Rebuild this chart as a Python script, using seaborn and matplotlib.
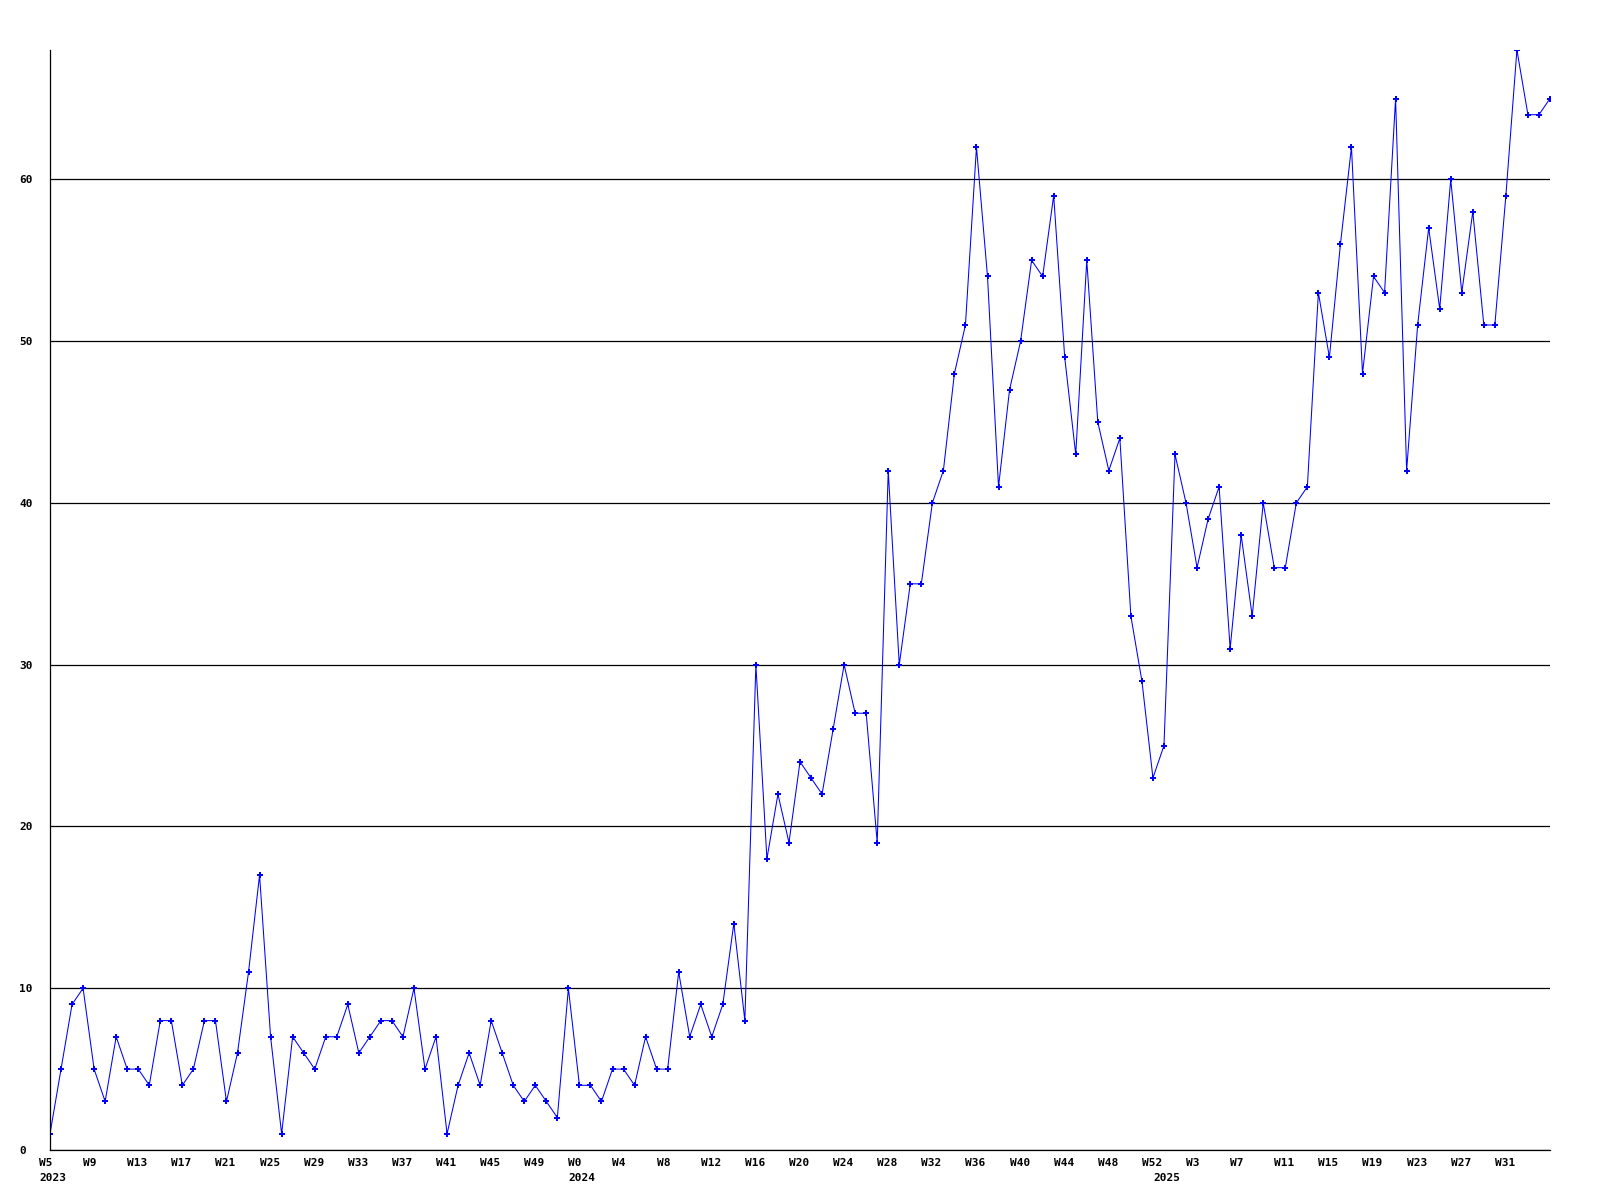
import numpy as np
import pandas as pd
import seaborn as sns
import matplotlib
matplotlib.use("Agg")
import matplotlib.pyplot as plt

# one value per week, 2023 W6 .. 2025 W36
weeks_2023 = ["W%d" % w for w in range(6, 53)]
weeks_2024 = ["W%d" % w for w in range(0, 53)]
weeks_2025 = ["W%d" % w for w in range(0, 37)]

counts = [
    1, 5, 9, 10, 5, 3, 7, 5, 5, 4, 8, 8, 4, 5, 8, 8, 3, 6, 11, 17, 7, 1, 7, 6,
    5, 7, 7, 9, 6, 7, 8, 8, 7, 10, 5, 7, 1, 4, 6, 4, 8, 6, 4, 3, 4, 3, 2,
    # 2024
    10, 4, 4, 3, 5, 5, 4, 7, 5, 5, 11, 7, 9, 7, 9, 14, 8, 30, 18, 22, 19, 24,
    23, 22, 26, 30, 27, 27, 19, 42, 30, 35, 35, 40, 42, 48, 51, 62, 54, 41, 47,
    50, 55, 54, 59, 49, 43, 55, 45, 42, 44, 33, 29,
    # 2025
    23, 25, 43, 40, 36, 39, 41, 31, 38, 33, 40, 36, 36, 40, 41, 53, 49, 56, 62,
    48, 54, 53, 65, 42, 51, 57, 52, 60, 53, 58, 51, 51, 59, 68, 64, 64, 65,
]

# labels every 4 weeks, first one is the week before the data starts
tick_labels = ["W5", "W9", "W13", "W17", "W21", "W25", "W29", "W33", "W37",
               "W41", "W45", "W49",
               "W0", "W4", "W8", "W12", "W16", "W20", "W24", "W28", "W32",
               "W36", "W40", "W44", "W48", "W52",
               "W3", "W7", "W11", "W15", "W19", "W23", "W27", "W31"]
years = ["2023", "2024", "2025"]

weeks = weeks_2023 + weeks_2024 + weeks_2025
df = pd.DataFrame({"idx": np.arange(len(counts)), "week": weeks, "count": counts})

tick_pos = [-1 + 4 * k for k in range(len(tick_labels))]
year_pos = [-1, len(weeks_2023), len(weeks_2023) + len(weeks_2024)]

sns.set_style("white")
plt.rcParams["font.family"] = ["DejaVu Sans Mono"]
plt.rcParams["text.color"] = "black"
plt.rcParams["ytick.color"] = "black"

fig = plt.figure(figsize=(16, 12), dpi=100)
ax = fig.add_axes([50 / 1600, 50 / 1200, 1500 / 1600, 1100 / 1200])

sns.lineplot(data=df, x="idx", y="count", color="#0000ff", linewidth=0.75,
             marker="P", markersize=4, markeredgewidth=0, ax=ax)

ax.set_xlim(0, len(counts) - 1)
ax.set_ylim(0, max(counts))
ax.set_yticks(range(0, 61, 10))
ax.yaxis.grid(True, color="black", linewidth=0.9)
ax.xaxis.grid(False)
ax.set_axisbelow(True)

for s in ["top", "right"]:
    ax.spines[s].set_visible(False)
for s in ["left", "bottom"]:
    ax.spines[s].set_color("black")
    ax.spines[s].set_linewidth(0.9)

ax.tick_params(axis="y", length=0, pad=22, labelsize=8, labelcolor="black")
for lbl in ax.get_yticklabels():
    lbl.set_ha("left")
    lbl.set_fontweight("bold")

ax.set_xticks([])
ax.set_xlabel("")
ax.set_ylabel("")

for p, lbl in zip(tick_pos, tick_labels):
    ax.annotate(lbl, xy=(p, 0), xycoords=("data", "axes fraction"),
                xytext=(0, -16), textcoords="offset pixels", ha="left",
                va="baseline", fontsize=8, fontweight="bold", color="black",
                annotation_clip=False)
for p, lbl in zip(year_pos, years):
    ax.annotate(lbl, xy=(p, 0), xycoords=("data", "axes fraction"),
                xytext=(0, -31), textcoords="offset pixels", ha="left",
                va="baseline", fontsize=8, fontweight="bold", color="black",
                annotation_clip=False)

fig.savefig("out.png", dpi=100)
